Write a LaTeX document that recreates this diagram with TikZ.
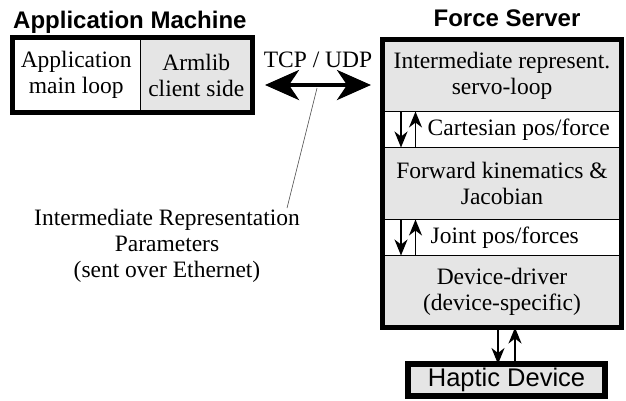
\documentclass[tikz,border=0pt]{standalone}
\usepackage{fontspec}
\setmainfont{Liberation Serif}
\newfontfamily\headFont{Liberation Sans}
\usetikzlibrary{arrows.meta,positioning,fit}

\begin{document}
\begin{tikzpicture}[x=1pt,y=-1pt,font=\fontsize{23.5}{26}\selectfont,
	cell/.style={draw=black,line width=1pt,inner sep=0pt,outer sep=0pt,align=center},
	greyCell/.style={cell,fill=black!10},
	frame/.style={draw=black,line width=5pt,inner sep=0pt,outer sep=0pt},
	title/.style={font=\headFont\bfseries\fontsize{24}{26}\selectfont,inner sep=0pt},
	smallArrow/.style={line width=1.7pt,-{Stealth[length=16pt,width=13pt,inset=5pt]}},
	bigArrow/.style={line width=4pt,{Stealth[length=34pt,width=30pt,inset=10pt]}-{Stealth[length=34pt,width=30pt,inset=10pt]}},
	leader/.style={draw=black!70,line width=0.6pt}
	]
	\useasboundingbox (0,0) rectangle (626,400);

	% application machine
	\node[title,anchor=base west] (appTitle) at (13,28) {Application Machine};
	\node[cell,minimum width=127.5pt,minimum height=75pt] (appLoop) at (76.25,75) {Application\\main loop};
	\node[greyCell,minimum width=112.5pt,minimum height=75pt,right=0pt of appLoop] (armlib) {Armlib\\client side};
	\node[frame,fit=(appLoop)(armlib)] (appMachine) {};

	% link between the two machines
	\node (tcpLabel) at (318,60) {TCP / UDP};
	\coordinate (tcpLeft) at (265,85);
	\coordinate (tcpRight) at (371,85);
	\draw[bigArrow] (tcpLeft) -- (tcpRight);
	\node[align=center,inner sep=0pt] (irParams) at (167,246) {Intermediate Representation\\Parameters\\(sent over Ethernet)};
	\coordinate (tcpMid) at (317,88);
	\coordinate (irTip) at (287,208);
	\draw[leader] (tcpMid) -- (irTip);

	% force server
	\node[title,anchor=base] (serverTitle) at (507,26) {Force Server};
	\node[greyCell,minimum width=239pt,minimum height=72pt] (servoLoop) at (502,75.5) {Intermediate represent.\\servo-loop};
	\node[cell,minimum width=239pt,minimum height=36pt,below=0pt of servoLoop] (cartesian) {};
	\node[greyCell,minimum width=239pt,minimum height=72pt,below=0pt of cartesian] (forwardKin) {Forward kinematics \&\\Jacobian};
	\node[cell,minimum width=239pt,minimum height=36pt,below=0pt of forwardKin] (joint) {};
	\node[greyCell,minimum width=239pt,minimum height=72pt,below=0pt of joint] (driver) {Device-driver\\(device-specific)};
	\node[frame,fit=(servoLoop)(driver)] (forceServer) {};
	\node[inner sep=0pt,right=45pt of cartesian.west] (cartesianText) {Cartesian pos/force};
	\node[inner sep=0pt,right=48pt of joint.west] (jointText) {Joint pos/forces};
%	arrows inside the white rows
	\draw[smallArrow] ([xshift=18.5pt]servoLoop.south west) -- ([xshift=18.5pt]forwardKin.north west);
	\draw[smallArrow] ([xshift=33pt]forwardKin.north west) -- ([xshift=33pt]servoLoop.south west);
	\draw[smallArrow] ([xshift=18.5pt]forwardKin.south west) -- ([xshift=18.5pt]driver.north west);
	\draw[smallArrow] ([xshift=33pt]driver.north west) -- ([xshift=33pt]forwardKin.south west);

	% haptic device
	\node[frame,line width=6pt,fill=black!10,font=\headFont\fontsize{25.5}{26}\selectfont,minimum width=197pt,minimum height=32pt] (haptic) at (506.5,380) {Haptic Device};
	\draw[smallArrow] ([xshift=-8.5pt]haptic.north |- forceServer.south) -- ([xshift=-8.5pt]haptic.north);
	\draw[smallArrow] ([xshift=8.5pt]haptic.north) -- ([xshift=8.5pt]haptic.north |- forceServer.south);
\end{tikzpicture}
\end{document}
